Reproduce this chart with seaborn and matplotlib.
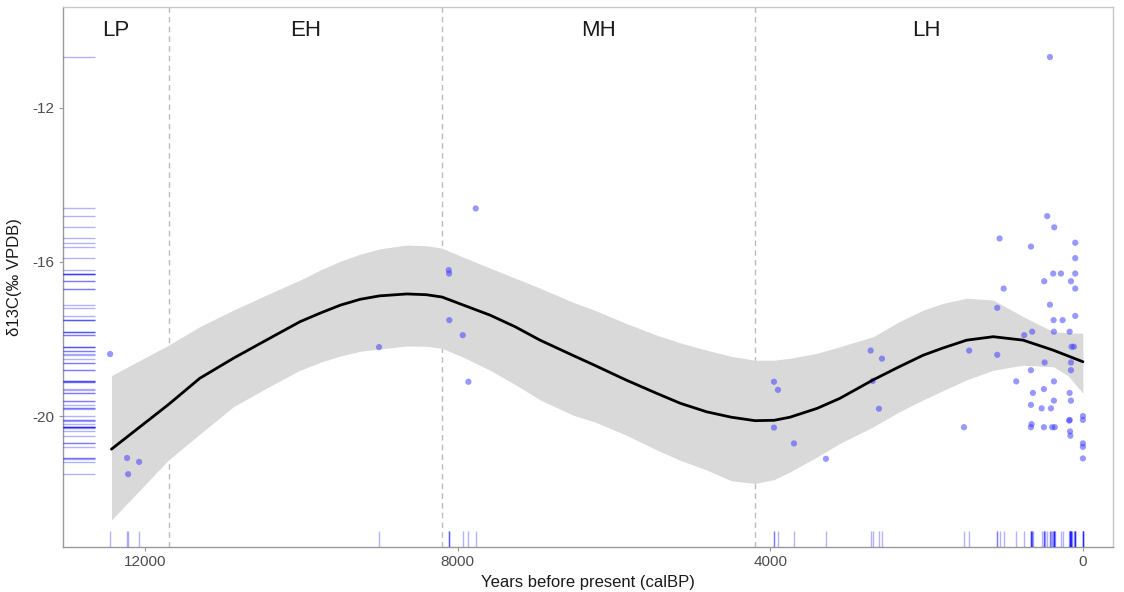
import matplotlib
matplotlib.use("Agg")
import matplotlib.pyplot as plt
import seaborn as sns
import pandas as pd

# ---- data ----
years = [12447, 12230, 12217, 12076,
         9006,
         8114, 8110, 8107, 7935, 7863, 7769,
         3953, 3902, 3953, 3697, 3288, 2716, 2571, 2690, 2610,
         1522, 1455, 1096, 1096, 1066, 1014, 853, 751, 665, 649, 665, 640, 665, 657, 665,
         528, 499, 499, 495, 490, 457, 422, 422, 409, 393, 380, 375, 371, 371, 371, 367, 360,
         281, 260, 170, 170, 170, 175, 165, 160, 153, 153, 153, 153, 145, 115,
         98, 98, 98, 98, 98, 0, 0, 0, 0, 0]
d13c = [-18.39, -21.09, -21.51, -21.19,
        -18.21,
        -16.21, -16.30, -17.51, -17.90, -19.11, -14.61,
        -19.11, -19.32, -20.30, -20.71, -21.11, -18.30, -18.51, -19.09, -19.81,
        -20.29, -18.30, -17.19, -18.41, -15.39, -16.69, -19.10, -17.90, -15.60, -17.81, -18.81, -19.40, -19.71, -20.21, -20.29,
        -19.80, -19.30, -20.29, -16.50, -18.61, -14.81, -10.68, -17.11, -19.80, -20.29, -16.30, -17.51, -17.81, -19.10, -19.60, -15.10, -20.29,
        -16.30, -17.51, -17.81, -19.40, -20.10, -20.12, -20.40, -20.51, -16.50, -18.61, -18.81, -19.60, -18.20, -18.20,
        -15.50, -15.90, -16.30, -16.69, -17.40, -20.00, -20.10, -20.71, -20.80, -21.10]

# smooth fit and its confidence band
fit_years = [12430, 11700, 11300, 10870, 10450, 10017, 9750, 9500, 9250, 9000, 8650, 8400, 8200, 7900,
             7586, 7266, 6946, 6520, 6250, 5850, 5454, 5150, 4814, 4500, 4196, 3950, 3748, 3400, 3109, 2683,
             2350, 2043, 1800, 1488, 1147, 764, 380, 190, 0]
fit_mid = [-20.86, -19.70, -19.02, -18.50, -18.03, -17.55, -17.32, -17.12, -16.97, -16.88, -16.83, -16.85, -16.91, -17.14,
           -17.38, -17.68, -18.03, -18.43, -18.68, -19.06, -19.41, -19.67, -19.89, -20.03, -20.12, -20.11, -20.03, -19.80, -19.54, -19.06,
           -18.72, -18.42, -18.24, -18.03, -17.94, -18.03, -18.29, -18.44, -18.59]
fit_lo = [-22.70, -21.14, -20.47, -19.76, -19.28, -18.81, -18.60, -18.44, -18.32, -18.26, -18.18, -18.19, -18.24, -18.50,
          -18.81, -19.18, -19.58, -19.98, -20.15, -20.49, -20.88, -21.15, -21.40, -21.68, -21.75, -21.65, -21.45, -21.06, -20.71, -20.28,
          -19.89, -19.58, -19.35, -19.06, -18.81, -18.68, -18.72, -18.95, -19.41]
fit_hi = [-18.95, -18.16, -17.68, -17.25, -16.86, -16.47, -16.20, -15.98, -15.80, -15.66, -15.56, -15.58, -15.64, -15.90,
          -16.16, -16.42, -16.68, -17.05, -17.25, -17.59, -17.90, -18.10, -18.29, -18.45, -18.55, -18.55, -18.50, -18.37, -18.20, -17.94,
          -17.55, -17.25, -17.08, -16.94, -16.99, -17.42, -17.81, -17.84, -17.85]

period_bounds = [11700, 8200, 4200]
period_labels = ["LP", "EH", "MH", "LH"]
period_label_x = [12375, 9950, 6200, 2000]

x_ticks = [12000, 8000, 4000, 0]
y_ticks = [-12, -16, -20]

df = pd.DataFrame({"year": years, "d13c": d13c})
fit = pd.DataFrame({"year": fit_years, "mid": fit_mid, "lo": fit_lo, "hi": fit_hi})

sns.set_theme(style="white")
plt.rcParams["font.family"] = ["Liberation Sans", "DejaVu Sans"]

fig = plt.figure(figsize=(11.24, 5.92), dpi=100)
ax = fig.add_axes([63 / 1124, 1 - 547 / 592, (1113 - 63) / 1124, (547 - 7) / 592])

for b in period_bounds:
    ax.axvline(b, color="#BBBBBB", ls=(0, (4, 3)), lw=1.0, zorder=1)

ax.fill_between(fit["year"], fit["lo"], fit["hi"], color="#D9D9D9", lw=0, zorder=2)
sns.scatterplot(data=df, x="year", y="d13c", ax=ax, color="#3333FF", alpha=0.5,
                s=20, edgecolor="none", zorder=3)
sns.lineplot(data=fit, x="year", y="mid", ax=ax, color="black", lw=2.0, zorder=4,
             sort=False, estimator=None)
sns.rugplot(data=df, x="year", y="d13c", ax=ax, height=0.03, color="#0000FF",
            alpha=0.3, lw=1.0, zorder=3)

for lab, xp in zip(period_labels, period_label_x):
    ax.text(xp, -10.0, lab, ha="center", va="center", fontsize=16, color="#1A1A1A")

ax.set_xlim(13050, -385)
ax.set_ylim(-23.4, -9.38)
ax.set_xticks(x_ticks)
ax.set_xticklabels([str(v) for v in x_ticks])
ax.set_yticks(y_ticks)
ax.set_yticklabels([str(v) for v in y_ticks])
ax.tick_params(axis="both", which="both", direction="out", length=3, width=0.8,
               color="#999999", labelcolor="#4D4D4D", labelsize=11, pad=3,
               bottom=True, left=True)
ax.set_xlabel("Years before present (calBP)", fontsize=12, color="#1A1A1A", labelpad=4)
ax.set_ylabel("δ13C(‰ VPDB)", fontsize=12, color="#1A1A1A", labelpad=8)

for side in ["left", "bottom"]:
    ax.spines[side].set_color("#999999")
    ax.spines[side].set_linewidth(1.0)
for side in ["top", "right"]:
    ax.spines[side].set_color("#C8C8C8")
    ax.spines[side].set_linewidth(1.0)

fig.savefig("out.png", dpi=100)
